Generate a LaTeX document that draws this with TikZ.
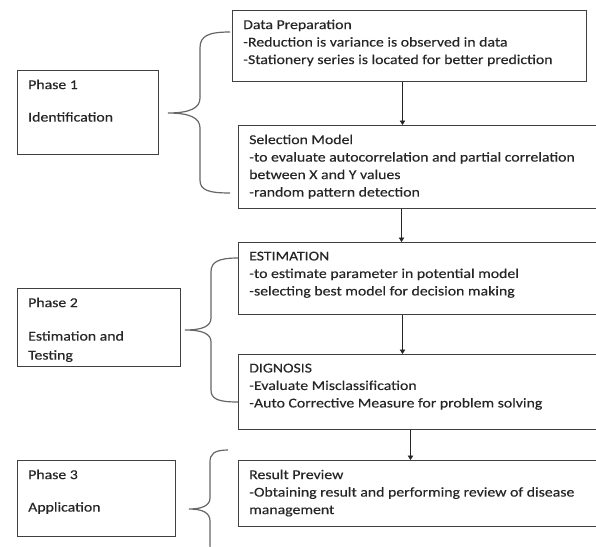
\documentclass[tikz,border=0pt]{standalone}
\usepackage{fontspec}
\setmainfont{Carlito}[FakeStretch=1.17, FakeBold=0.3]
\usetikzlibrary{positioning,arrows.meta}

\begin{document}
\begin{tikzpicture}[x=1pt, y=-1pt, font=\fontsize{13.5}{17.5}\selectfont, text=black!85,
  frame/.style={draw=black!75, line width=1pt, anchor=north west, inner sep=0pt},
  txt/.style={anchor=north west, align=left, inner sep=0pt, xshift=11pt, yshift=-9.5pt},
  arr/.style={-{Triangle[length=4.5pt,width=5.5pt]}, line width=0.9pt, color=black!85},
  brace/.style={draw=black!60, line width=1.2pt}]
\clip (0,0) rectangle (596,546);
% phases
\node[frame, minimum width=141pt, minimum height=84pt, label={[txt]north west:{Phase 1\\[15pt]Identification}}] (p1) at (17,70) {};
\node[frame, minimum width=163pt, minimum height=78pt, label={[txt]north west:{Phase 2\\[16pt]Estimation and\\[1.5pt]Testing}}] (p2) at (17,288) {};
\node[frame, minimum width=158pt, minimum height=76pt, label={[txt]north west:{Phase 3\\[15pt]Application}}] (p3) at (17,460) {};
% steps
\node[frame, minimum width=354pt, minimum height=71pt, label={[txt]north west:{Data Preparation\\-Reduction is variance is observed in data\\-Stationery series is located for better prediction}}] (dp) at (232,10) {};
\node[frame, minimum width=380pt, minimum height=83pt, label={[txt]north west:{Selection Model\\-to evaluate autocorrelation and partial correlation\\between X and Y values\\-random pattern detection}}] (sm) at (238,125) {};
\node[frame, minimum width=380pt, minimum height=72pt, label={[txt]north west:{ESTIMATION\\-to estimate parameter in potential model\\-selecting best model for decision making}}] (est) at (238,242) {};
\node[frame, minimum width=380pt, minimum height=75pt, label={[txt]north west:{DIGNOSIS\\-Evaluate Misclassification\\-Auto Corrective Measure for problem solving}}] (dg) at (238,354) {};
\node[frame, minimum width=380pt, minimum height=66pt, label={[txt]north west:{Result Preview\\-Obtaining result and performing review of disease\\management}}] (rp) at (238,460) {};
\draw[arr] ([xshift=-7pt]dp.south) -- ([xshift=-7pt]dp.south |- sm.north);
\draw[arr] ([xshift=-27pt]sm.south) -- ([xshift=-27pt]sm.south |- est.north);
\draw[arr] ([xshift=-26pt]est.south) -- ([xshift=-26pt]est.south |- dg.north);
\draw[arr] ([xshift=-18pt]dg.south) -- ([xshift=-18pt]dg.south |- rp.north);
% braces
\draw[brace] (230,32) .. controls (208,32) and (200,36) .. (200,48) -- (200,98) .. controls (200,108) and (190,113) .. (168,113)
  .. controls (190,113) and (200,118) .. (200,128) -- (200,180) .. controls (200,190) and (208,193) .. (230,193);
\draw[brace] (238,258) .. controls (218,258) and (211,262) .. (211,272) -- (211,318) .. controls (211,326) and (203,330) .. (185,330)
  .. controls (203,330) and (211,334) .. (211,342) -- (211,390) .. controls (211,399) and (218,402) .. (238,402);
\draw[brace] (228,450) .. controls (214,450) and (210,454) .. (210,462) -- (210,498) .. controls (210,505) and (203,509) .. (189,509)
  .. controls (203,509) and (210,513) .. (210,521) -- (210,545) .. controls (210,553) and (214,556) .. (228,556);
\end{tikzpicture}
\end{document}
